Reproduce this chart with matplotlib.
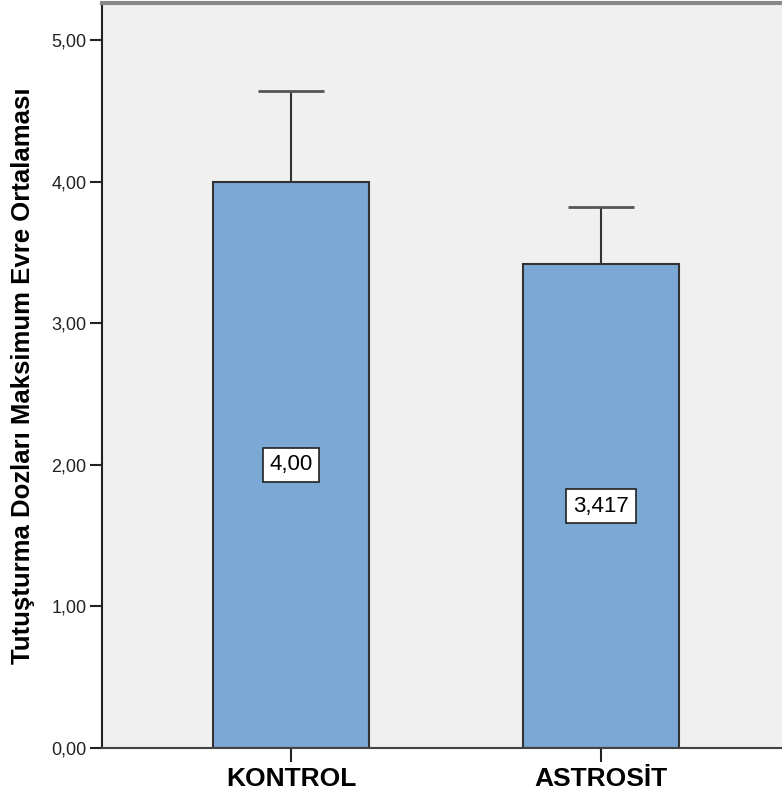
import numpy as np
import matplotlib
matplotlib.use('Agg')
import matplotlib.pyplot as plt
from matplotlib.ticker import FuncFormatter

plt.rcParams['font.family'] = ['Liberation Sans', 'DejaVu Sans']

# data
groups = ['KONTROL', 'ASTROSİT']
means = [4.00, 3.417]
upper = [4.64, 3.82]          # top of error bar
value_labels = ['4,00', '3,417']
yticks = [0, 1, 2, 3, 4, 5]

fig = plt.figure(figsize=(7.82, 7.98), dpi=100)
ax = fig.add_axes([102/782, 50/798, 1 - 102/782, 745.5/798])
ax.set_facecolor('#f0f0f0')

x = np.arange(len(groups))
ax.bar(x, means, 0.503, color='#7ba8d5', edgecolor='#333333', linewidth=1.5, zorder=2)

# upper error bars only
ax.vlines(x, means, upper, color='#333333', linewidth=1.5, zorder=3)
ax.hlines(upper, x - 0.106, x + 0.106, color='#555555', linewidth=2, zorder=3)

for xi, m, lab in zip(x, means, value_labels):
    ax.text(xi, m/2, lab, ha='center', va='center', fontsize=16, zorder=4,
            bbox=dict(boxstyle='square,pad=0.3', facecolor='white', edgecolor='#222222', linewidth=1.2))

ax.set_xlim(-0.61, 1.584)
ax.set_ylim(0, 5.265)
ax.set_xticks(x)
ax.set_xticklabels(groups, fontsize=19, fontweight='bold')
ax.set_yticks(yticks)
ax.yaxis.set_major_formatter(FuncFormatter(lambda v, p: ('%.2f' % v).replace('.', ',')))
ax.tick_params(axis='y', labelsize=13, length=9, width=1.5, color='#222222', labelcolor='#222222', pad=2)
ax.tick_params(axis='x', length=10, width=1.5, color='#222222', pad=4)

ax.spines['right'].set_visible(False)
ax.spines['top'].set_color('#888888')
ax.spines['top'].set_linewidth(3)
ax.spines['left'].set_linewidth(1.5)
ax.spines['left'].set_color('#222222')
ax.spines['bottom'].set_linewidth(1.5)
ax.spines['bottom'].set_color('#444444')

ax.set_ylabel('Tutuşturma Dozları Maksimum Evre Ortalaması', fontsize=18.5, fontweight='bold')
ax.yaxis.set_label_coords(-0.099, 0.5)

fig.savefig('out.png', dpi=100)
